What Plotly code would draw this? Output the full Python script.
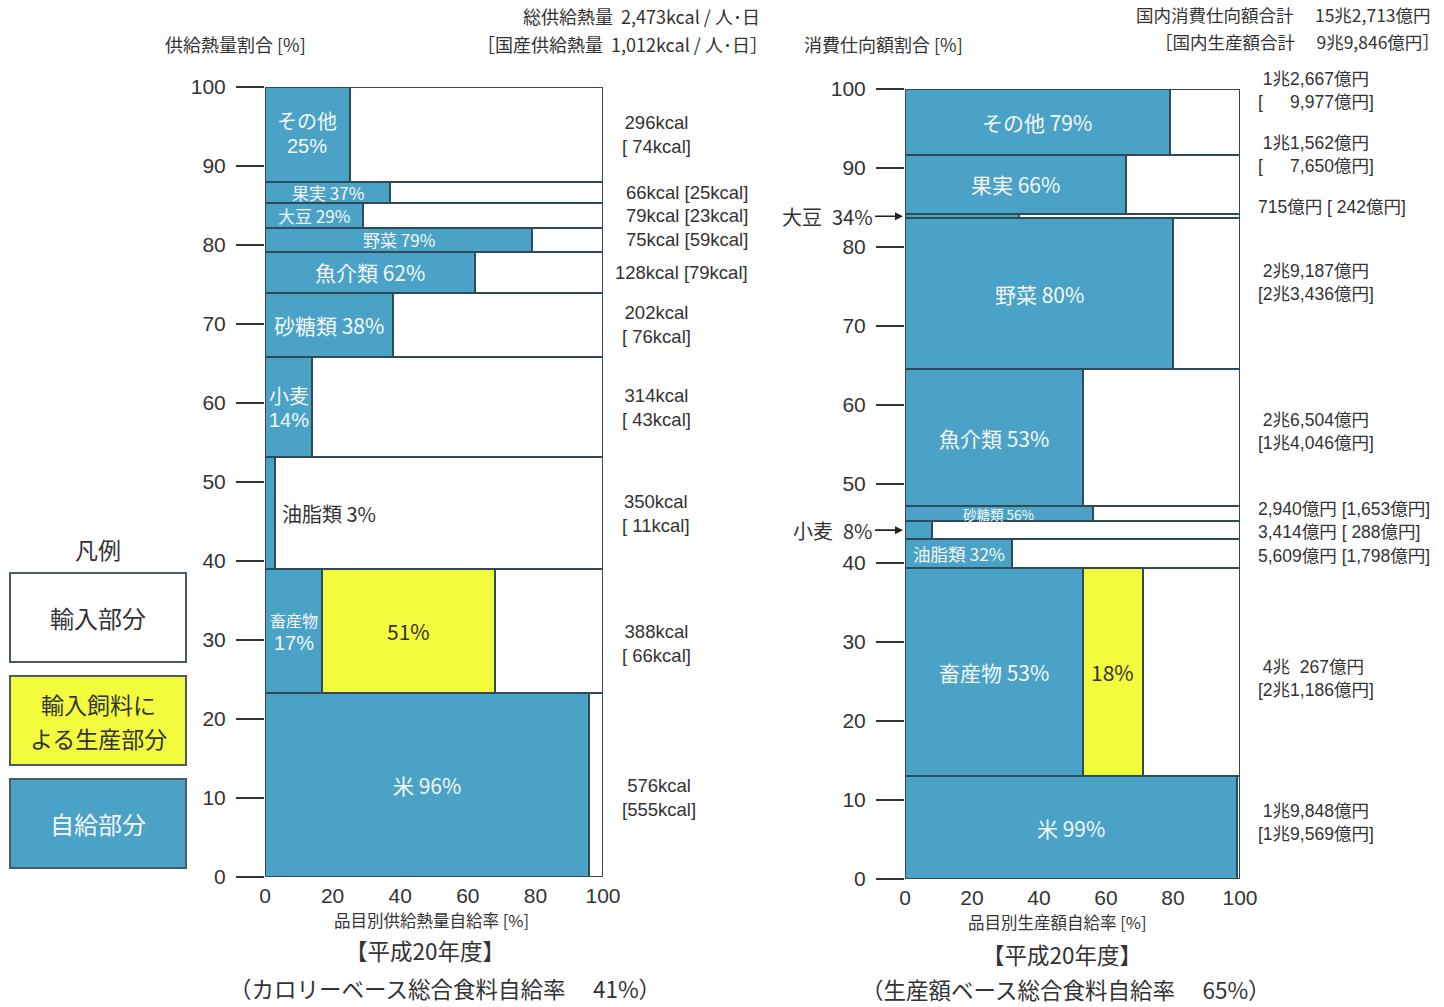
import plotly.graph_objects as go

# ---------------- data ----------------
items = ["米", "畜産物", "油脂類", "小麦", "砂糖類", "魚介類", "野菜", "大豆", "果実", "その他"]

# Left: calorie basis (kcal / person / day)
kcal_total = [576, 388, 350, 314, 202, 128, 75, 79, 66, 296]
kcal_dom = [555, 66, 11, 43, 76, 79, 59, 23, 25, 74]
rate_l = [96, 17, 3, 14, 38, 62, 79, 29, 37, 25]
feed_l = [0, 51, 0, 0, 0, 0, 0, 0, 0, 0]

# Right: production value basis (億円)
val_total = [19848, 40267, 5609, 3414, 2940, 26504, 29187, 715, 11562, 12667]
val_dom = [19569, 21186, 1798, 288, 1653, 14046, 23436, 242, 7650, 9977]
rate_r = [99, 53, 32, 8, 56, 53, 80, 34, 66, 79]
feed_r = [0, 18, 0, 0, 0, 0, 0, 0, 0, 0]

x_ticks = [0, 20, 40, 60, 80, 100]
y_ticks = [0, 10, 20, 30, 40, 50, 60, 70, 80, 90, 100]

# ---------------- style ----------------
W, H = 1444, 1007
FONT = "Noto Sans CJK JP"
LATIN = "Liberation Sans"
MIXED = "Liberation Sans, Noto Sans CJK JP"
BLUE = "#4aa2c6"
YELLOW = "#f2fb3c"
EDGE = "#2f4b58"
TXT = "#333333"
WHITE_TXT = "#f5f9fb"


def px_x(r):
    return min(r, W - 1) / W


def px_y(r):
    return 1 - r / H


def bands(values):
    tot = sum(values)
    shares = [v / tot * 100 for v in values]
    bottoms, c = [], 0.0
    for s in shares:
        bottoms.append(c)
        c += s
    centers = [b + s / 2 for b, s in zip(bottoms, shares)]
    return shares, centers


sh_l, ce_l = bands(kcal_total)
sh_r, ce_r = bands(val_total)

fig = go.Figure()


def add_bars(xa, ya, shares, centers, rates, feeds):
    line = dict(color=EDGE, width=2)
    fig.add_trace(go.Bar(x=[100] * len(shares), y=centers, width=shares, base=0,
                         orientation="h", marker=dict(color="white", line=line),
                         xaxis=xa, yaxis=ya, showlegend=False, cliponaxis=False,
                         hoverinfo="skip"))
    fig.add_trace(go.Bar(x=rates, y=centers, width=shares, base=0,
                         orientation="h", marker=dict(color=BLUE, line=line),
                         xaxis=xa, yaxis=ya, showlegend=False, cliponaxis=False,
                         hoverinfo="skip"))
    idx = [i for i, f in enumerate(feeds) if f > 0]
    fig.add_trace(go.Bar(x=[feeds[i] for i in idx], y=[centers[i] for i in idx],
                         width=[shares[i] for i in idx], base=[rates[i] for i in idx],
                         orientation="h", marker=dict(color=YELLOW, line=line),
                         xaxis=xa, yaxis=ya, showlegend=False, cliponaxis=False,
                         hoverinfo="skip"))


add_bars("x", "y", sh_l, ce_l, rate_l, feed_l)
add_bars("x2", "y2", sh_r, ce_r, rate_r, feed_r)

ann = []


def size_for(share):
    if share < 2.5:
        return 13.5
    if share < 3.5:
        return 17
    if share < 4:
        return 17.5
    return 21


# ---- left in-bar labels ----
# two-line labels: (name font size, shift of name line, shift of % line)
two_line_l = {"その他": (20, 14, -12), "小麦": (20, 12, -13), "畜産物": (16, 11, -12)}
for i, name in enumerate(items):
    fs = size_for(sh_l[i])
    if name == "油脂類":
        ann.append(dict(x=rate_l[i] + 1.5, y=ce_l[i], xref="x", yref="y", xanchor="left",
                        text=f"{name} {rate_l[i]}%", showarrow=False,
                        font=dict(size=20, color=TXT, family=FONT)))
        continue
    if name in two_line_l:
        nfs, s1, s2 = two_line_l[name]
        ann.append(dict(x=rate_l[i] / 2, y=ce_l[i], xref="x", yref="y", text=name,
                        yshift=s1, showarrow=False,
                        font=dict(size=nfs, color=WHITE_TXT, family=FONT)))
        ann.append(dict(x=rate_l[i] / 2, y=ce_l[i], xref="x", yref="y", text=f"{rate_l[i]}%",
                        yshift=s2, showarrow=False,
                        font=dict(size=20, color=WHITE_TXT, family=LATIN)))
    else:
        ann.append(dict(x=rate_l[i] / 2, y=ce_l[i], xref="x", yref="y",
                        text=f"{name} {rate_l[i]}%", showarrow=False,
                        font=dict(size=fs, color=WHITE_TXT, family=FONT)))
    if feed_l[i] > 0:
        ann.append(dict(x=rate_l[i] + feed_l[i] / 2, y=ce_l[i], xref="x", yref="y",
                        text=f"{feed_l[i]}%", showarrow=False,
                        font=dict(size=21, color=TXT, family=FONT)))

# ---- right in-bar labels ----
arrow_r = {"大豆", "小麦"}
for i, name in enumerate(items):
    if name in arrow_r:
        ann.append(dict(x=0, y=ce_r[i], xref="x2", yref="y2", text=f"{name}\u2002{rate_r[i]}%",
                        showarrow=True, arrowhead=2, arrowsize=1, arrowwidth=1.6,
                        arrowcolor="#222", ax=-30, ay=0, xanchor="right", standoff=2,
                        font=dict(size=20, color=TXT, family=FONT)))
        continue
    fs = size_for(sh_r[i])
    ann.append(dict(x=rate_r[i] / 2, y=ce_r[i], xref="x2", yref="y2",
                    text=f"{name} {rate_r[i]}%", showarrow=False,
                    font=dict(size=fs, color=WHITE_TXT, family=FONT)))
    if feed_r[i] > 0:
        ann.append(dict(x=rate_r[i] + feed_r[i] / 2, y=ce_r[i], xref="x2", yref="y2",
                        text=f"{feed_r[i]}%", showarrow=False,
                        font=dict(size=21, color=TXT, family=FONT)))

# ---- value labels (left) ----
NB = "\u00a0"
yshift_l = {"米": -12, "畜産物": -12}
for i, name in enumerate(items):
    if sh_l[i] < 6:
        t = f"{kcal_total[i]}kcal [{kcal_dom[i]}kcal]"
        ann.append(dict(x=px_x(750), y=ce_l[i], xref="paper", yref="y", xanchor="right",
                        text=t, showarrow=False, font=dict(size=18.5, color=TXT, family=LATIN)))
    else:
        d = str(kcal_dom[i]) if kcal_dom[i] >= 100 else NB + str(kcal_dom[i])
        t = f"{kcal_total[i]}kcal<br>[{d}kcal]"
        ann.append(dict(x=px_x(620), y=ce_l[i], xref="paper", yref="y", xanchor="left",
                        align="center", text=t, showarrow=False,
                        yshift=yshift_l.get(name, 0),
                        font=dict(size=18.5, color=TXT, family=LATIN)))


# ---- value labels (right) ----
def fmt_oku(v, pad=False):
    cho, rest = divmod(v, 10000)
    if cho:
        r = f"{rest:,}" if rest >= 1000 else NB + NB + str(rest)
        return f"{cho}兆{r}億円"
    s = f"{rest:,}"
    return ("\u3000" + NB + NB + s if pad else s) + "億円"


yshift_r = {"その他": 31, "果実": 30, "大豆": 9, "野菜": 11, "魚介類": 6, "砂糖類": 5,
            "小麦": -2, "油脂類": -2, "畜産物": -6, "米": 5}
for i, name in enumerate(items):
    if sh_r[i] < 6:
        dom = fmt_oku(val_dom[i])
        if val_dom[i] < 1000:
            dom = NB + dom
        t = f"{fmt_oku(val_total[i])} [{dom}]"
    else:
        t = f"{NB}{fmt_oku(val_total[i])}<br>[{fmt_oku(val_dom[i], pad=True)}]"
    ann.append(dict(x=px_x(1256), y=ce_r[i], xref="paper", yref="y2", xanchor="left",
                    align="left", text=t, showarrow=False,
                    yshift=yshift_r.get(name, 0),
                    font=dict(size=17.5, color=TXT, family=MIXED)))


# ---- headers / footers ----
def txt(x, y, t, size, anchor="center", color=TXT):
    ann.append(dict(x=px_x(x), y=px_y(y), xref="paper", yref="paper", text=t,
                    xanchor=anchor, yanchor="middle", showarrow=False,
                    font=dict(size=size, color=color, family=FONT)))


txt(163, 44, "供給熱量割合 [%]", 18, "left")
txt(762, 16, "総供給熱量\u00a0 2,473kcal / 人･日", 18, "right")
txt(770, 44, "［国産供給熱量\u00a0 1,012kcal / 人･日］", 18, "right")
txt(802, 44, "消費仕向額割合 [%]", 18, "left")
txt(1433, 15, "国内消費仕向額合計\u3000 15兆2,713億円", 17.5, "right")
txt(1442, 41, "［国内生産額合計\u3000 9兆9,846億円］", 17.5, "right")

txt(432, 920, "品目別供給熱量自給率 [%]", 16.5)
txt(425, 950, "【平成20年度】", 22.5)
txt(445, 988, "（カロリーベース総合食料自給率\u3000 41%）", 22.5)
txt(1057, 922, "品目別生産額自給率 [%]", 16.5)
txt(1062, 954, "【平成20年度】", 22.5)
txt(1066, 989, "（生産額ベース総合食料自給率\u3000 65%）", 22.5)

# ---- legend ----
txt(98, 549, "凡例", 23)
shapes = []
legend_boxes = [(["輸入部分"], "white", TXT, 573, 662),
                (["輸入飼料に", "よる生産部分"], YELLOW, TXT, 676, 765),
                (["自給部分"], BLUE, WHITE_TXT, 779, 868)]
for lines, col, tc, y0, y1 in legend_boxes:
    shapes.append(dict(type="rect", xref="paper", yref="paper",
                       x0=px_x(10), x1=px_x(186), y0=px_y(y1), y1=px_y(y0),
                       fillcolor=col, line=dict(color="#4c5a64", width=2)))
    mid = (y0 + y1) / 2
    if len(lines) == 1:
        txt(98, mid, lines[0], 24, "center", tc)
    else:
        txt(98, mid - 17, lines[0], 23, "center", tc)
        txt(98, mid + 17, lines[1], 23, "center", tc)

axis_common = dict(range=[0, 100], showgrid=False, zeroline=False, showline=False,
                   automargin=False)
tickfont = dict(size=21, color=TXT, family=LATIN)


def dom_x(a, b):
    return [px_x(a), px_x(b)]


def dom_y(bottom, top):
    return [px_y(bottom), px_y(top)]


fig.update_layout(
    width=W, height=H, autosize=False,
    margin=dict(l=0, r=0, t=0, b=0),
    paper_bgcolor="white", plot_bgcolor="white",
    barmode="overlay", bargap=0,
    font=dict(family=FONT, color=TXT),
    xaxis=dict(domain=dom_x(265, 603), anchor="y", tickvals=x_ticks, ticks="",
               ticklabelstandoff=4, tickfont=tickfont, **axis_common),
    yaxis=dict(domain=dom_y(877, 87), anchor="x", tickvals=y_ticks, ticks="outside",
               ticklen=28, tickwidth=2, tickcolor="#333", ticklabelstandoff=6,
               tickfont=tickfont, **axis_common),
    xaxis2=dict(domain=dom_x(905, 1240), anchor="y2", tickvals=x_ticks, ticks="",
                ticklabelstandoff=4, tickfont=tickfont, **axis_common),
    yaxis2=dict(domain=dom_y(879, 89), anchor="x2", tickvals=y_ticks, ticks="outside",
                ticklen=28, tickwidth=2, tickcolor="#333", ticklabelstandoff=6,
                tickfont=tickfont, **axis_common),
    annotations=ann,
    shapes=shapes,
)

fig.write_html("out.html", config={"displayModeBar": False},
               post_script="document.body.style.margin='0';document.body.style.overflow='hidden';")
